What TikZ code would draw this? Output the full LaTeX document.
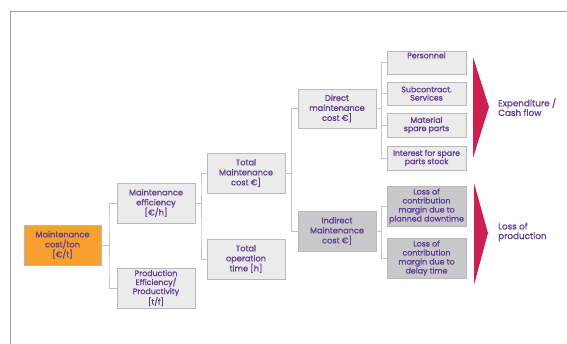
\documentclass[tikz,border=0pt]{standalone}
\usepackage{fontspec}
\setmainfont{Poppins}[FakeBold=1.2]
\usetikzlibrary{calc,shadows}
\definecolor{txt}{HTML}{5E3F8F}
\definecolor{boxfill}{HTML}{EBEBEB}
\definecolor{boxdark}{HTML}{C9C9CC}
\definecolor{boxline}{HTML}{B8B8B8}
\definecolor{orangefill}{HTML}{F7A030}
\definecolor{redtri}{HTML}{CC2050}
\definecolor{conn}{HTML}{C4C4C4}
\definecolor{frame}{HTML}{A0A0A0}
\tikzset{
  box/.style={draw=boxline, fill=boxfill, line width=0.6pt, text=txt, align=center,
    inner sep=0pt, font=\fontsize{8.2}{10}\selectfont,
    drop shadow={shadow xshift=0.8pt, shadow yshift=-0.8pt, fill=black!18, opacity=1}},
  bigbox/.style={box, minimum width=78pt, minimum height=40pt},
  smallbox/.style={box, minimum width=79pt},
  fourline/.style={font=\fontsize{7.9}{9}\selectfont},
  twoline/.style={font=\fontsize{7.9}{8.3}\selectfont},
  darkbox/.style={fill=boxdark},
  conline/.style={draw=conn, line width=0.7pt},
  sidelabel/.style={text=txt, align=left, anchor=west, inner sep=0pt, font=\fontsize{8.8}{9.6}\selectfont},
  tri/.style={fill=redtri, draw=none}
}
\begin{document}
\begin{tikzpicture}[x=1pt,y=-1pt]
\useasboundingbox (0,0) rectangle (567,344);
\draw[frame, line width=0.7pt] (10,344) -- (10,11) -- (567,11);

\node[bigbox, fill=orangefill, minimum width=77pt] (root) at (62.5,245) {Maintenance\\cost/ton\\{[}€/t{]}};
\node[bigbox] (meff) at (156,203) {Maintenance\\efficiency\\{[}€/h{]}};
\node[bigbox, fourline] (peff) at (156,288) {Production\\Efficiency/\\Productivity\\{[}t/f{]}};
\node[bigbox] (tmc) at (246,173) {Total\\Maintenance\\cost €{]}};
\node[bigbox] (tot) at (246,259) {Total\\operation\\time {[}h{]}};
\node[bigbox, minimum height=39pt] (dmc) at (337,108.5) {Direct\\maintenance\\cost €{]}};
\node[bigbox, darkbox] (imc) at (337,231) {Indirect\\Maintenance\\cost €{]}};
\node[smallbox, twoline, minimum height=23pt] (pers) at (426.5,62.5) {Personnel\\[6pt]};
\node[smallbox, twoline, minimum height=23pt] (sub) at (426.5,93.5) {Subcontract.\\Services};
\node[smallbox, twoline, minimum height=24pt] (mat) at (426.5,125) {Material\\spare parts};
\node[smallbox, twoline, minimum height=24pt] (int) at (426.5,158) {Interest for spare\\parts stock};
\node[smallbox, darkbox, fourline, minimum height=40pt] (lp) at (426.5,206) {Loss of\\contribution\\margin due to\\planned downtime};
\node[smallbox, darkbox, fourline, minimum height=40pt] (ld) at (426.5,258) {Loss of\\contribution\\margin due to\\delay time};

\foreach \p/\c in {root/meff, root/peff, meff/tmc, meff/tot, tmc/dmc, tmc/imc,
  dmc/pers, dmc/sub, dmc/mat, dmc/int, imc/lp, imc/ld}{
  \draw[conline] (\p.east) -| ($(\p.east)!0.5!(\c.west)$) |- (\c.west);
}

\coordinate (t1a) at (473,57);
\coordinate (t1b) at (489,107);
\coordinate (t1c) at (473,158);
\fill[tri] (t1a) -- (t1b) -- (t1c) -- cycle;
\coordinate (t2a) at (474,183);
\coordinate (t2b) at (488,233);
\coordinate (t2c) at (474,285);
\fill[tri] (t2a) -- (t2b) -- (t2c) -- cycle;

\node[sidelabel] (exp) at (498,107) {Expenditure /\\Cash flow};
\node[sidelabel] (lop) at (498,232) {Loss of\\production};
\end{tikzpicture}
\end{document}
